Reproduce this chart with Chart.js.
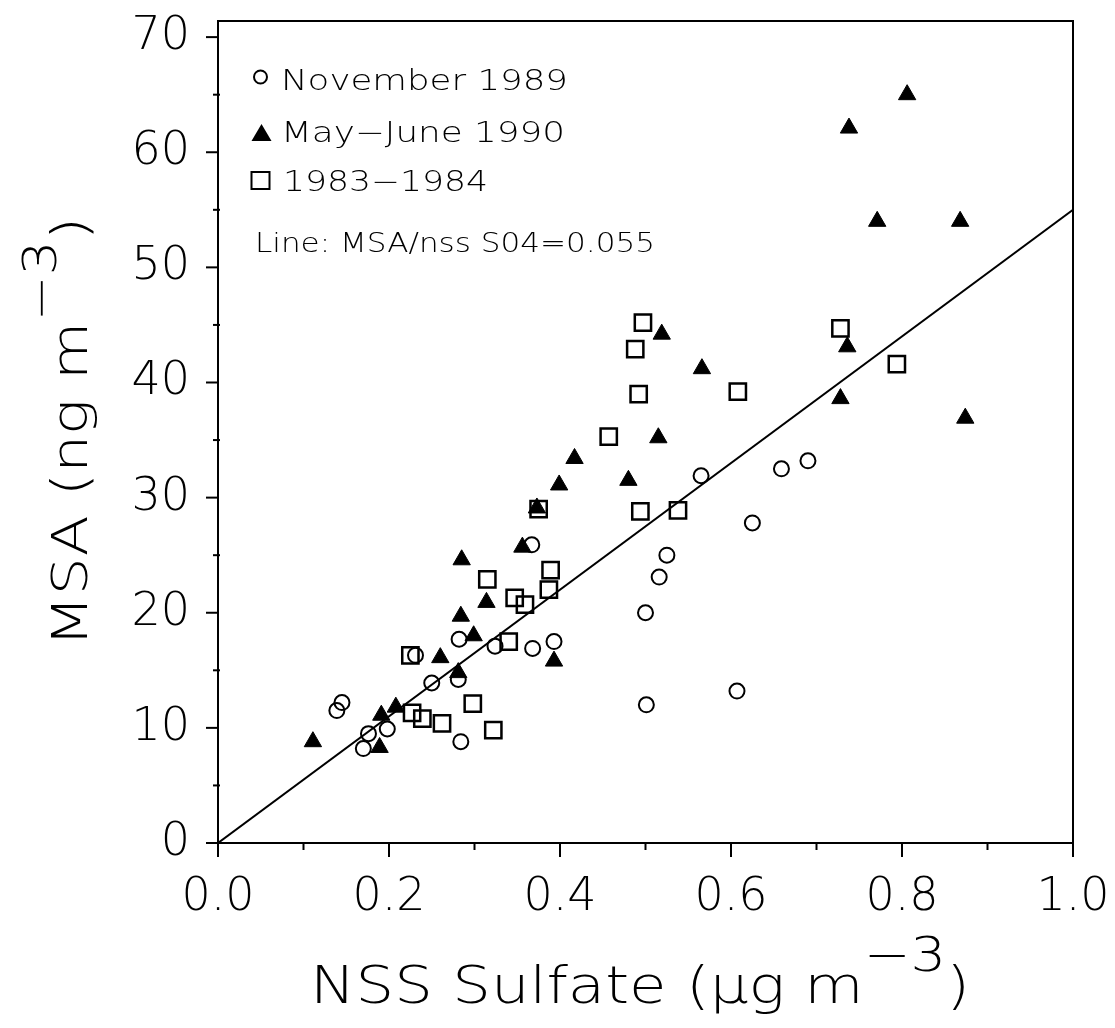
<!DOCTYPE html>
<html>
<head>
<meta charset="utf-8">
<script src="https://cdn.jsdelivr.net/npm/chart.js@4"></script>
<style>
  body { margin: 0; background: #fff; }
  #wrap { width: 1115px; height: 1028px; }
</style>
</head>
<body>
<div id="wrap"><canvas id="msaChart" width="1115" height="1028"></canvas></div>
<script>
// November 1989 (open circles)
const novX = [0.139, 0.145, 0.170, 0.176, 0.198, 0.231, 0.250, 0.282, 0.281, 0.284, 0.324, 0.367,
              0.368, 0.393, 0.501, 0.500, 0.516, 0.525, 0.565, 0.625, 0.607, 0.659, 0.690];
const novY = [11.5, 12.2, 8.2, 9.5, 9.9, 16.3, 13.9, 17.7, 14.2, 8.8, 17.1, 25.9,
              16.9, 17.5, 12.0, 20.0, 23.1, 25.0, 31.9, 27.8, 13.2, 32.5, 33.2];

// May-June 1990 (filled triangles)
const mayX = [0.111, 0.191, 0.208, 0.189, 0.260, 0.281, 0.284, 0.299, 0.285, 0.314, 0.356, 0.373, 0.399,
              0.417, 0.393, 0.480, 0.515, 0.519, 0.566, 0.728, 0.736, 0.738, 0.771, 0.806, 0.868, 0.874];
const mayY = [8.8, 11.1, 11.8, 8.3, 16.1, 14.8, 19.7, 18.0, 24.6, 20.9, 25.7, 29.1, 31.1,
              33.4, 15.8, 31.5, 35.2, 44.2, 41.2, 38.6, 43.1, 62.1, 54.0, 65.0, 54.0, 36.9];

// 1983-1984 (open squares)
const oldX = [0.225, 0.227, 0.239, 0.262, 0.298, 0.322, 0.315, 0.340, 0.347, 0.359, 0.387,
              0.389, 0.375, 0.457, 0.494, 0.538, 0.492, 0.488, 0.497, 0.608, 0.728, 0.794];
const oldY = [16.3, 11.3, 10.8, 10.4, 12.1, 9.8, 22.9, 17.5, 21.3, 20.7, 22.0,
              23.7, 29.0, 35.3, 28.8, 28.9, 39.0, 42.9, 45.2, 39.2, 44.7, 41.6];

// reference line MSA/nss SO4 = 0.055
const lineX = [0, 1.0];
const lineY = [0, 55];

const xTicks = [0, 0.2, 0.4, 0.6, 0.8, 1.0];
const xMinor = [0.1, 0.3, 0.5, 0.7, 0.9];
const yTicks = [0, 10, 20, 30, 40, 50, 60, 70];
const yMinor = [5, 15, 25, 35, 45, 55, 65];

const FONT = '"DejaVu Sans", "Liberation Sans", sans-serif';
const WEIGHT = '200';

function toPoints(xs, ys) {
    return xs.map((x, i) => ({ x: x, y: ys[i] }));
}

// text with optional superscript parts, stretched to a target width
function wideText(c, parts, x, y, size, width) {
    const supSize = size * 0.92;
    let widths = parts.map(p => {
        c.font = `${WEIGHT} ${p[1] ? supSize : size}px ${FONT}`;
        return c.measureText(p[0]).width;
    });
    const total = widths.reduce((a, b) => a + b, 0);
    const sx = width ? width / total : 1;
    c.save();
    c.translate(x, y);
    c.scale(sx, 1);
    let cx = 0;
    parts.forEach((p, i) => {
        c.font = `${WEIGHT} ${p[1] ? supSize : size}px ${FONT}`;
        c.fillText(p[0], cx, p[1] ? -size * 0.62 : 0);
        cx += widths[i];
    });
    c.restore();
}

const framePlugin = {
    id: 'frame',
    afterDraw(chart) {
        const c = chart.ctx;
        const ca = chart.chartArea;
        const xs = chart.scales.x;
        const ys = chart.scales.y;
        c.save();
        c.strokeStyle = '#000';
        c.fillStyle = '#000';
        c.lineWidth = 2;
        c.strokeRect(ca.left, ca.top, ca.right - ca.left, ca.bottom - ca.top);

        const seg = (x1, y1, x2, y2) => { c.beginPath(); c.moveTo(x1, y1); c.lineTo(x2, y2); c.stroke(); };
        yTicks.forEach(v => { const p = ys.getPixelForValue(v); seg(ca.left - 12, p, ca.left, p); });
        yMinor.forEach(v => { const p = ys.getPixelForValue(v); seg(ca.left - 5, p, ca.left + 2, p); });
        xTicks.forEach(v => { const p = xs.getPixelForValue(v); seg(p, ca.bottom, p, ca.bottom + 14); });
        xMinor.forEach(v => { const p = xs.getPixelForValue(v); seg(p, ca.bottom, p, ca.bottom + 7); });

        // legend inside the plot
        c.textBaseline = 'alphabetic';
        c.textAlign = 'left';
        c.beginPath();
        c.arc(260.5, 77, 6.5, 0, Math.PI * 2);
        c.stroke();
        wideText(c, [['November 1989', false]], 281, 90, 28, 287);

        c.beginPath();
        c.moveTo(261.5, 124);
        c.lineTo(271.5, 141);
        c.lineTo(251.5, 141);
        c.closePath();
        c.fill();
        wideText(c, [['May\u2212June 1990', false]], 281, 141.5, 28, 284);

        c.lineWidth = 2;
        c.strokeRect(251.5, 172, 18, 17);
        wideText(c, [['1983\u22121984', false]], 283, 190.5, 28, 205);

        wideText(c, [['Line: MSA/nss S04=0.055', false]], 255, 251.5, 27, 400);

        // axis titles
        const xParts = [['NSS Sulfate (\u00b5g m', false], ['\u22123', true], [')', false]];
        wideText(c, xParts, 310, 1003, 52, 660);

        c.save();
        c.translate(87, 432);
        c.rotate(-Math.PI / 2);
        const yParts = [['MSA (ng m', false], ['\u22123', true], [')', false]];
        wideText(c, yParts, -215, 0, 50, 430);
        c.restore();

        c.restore();
    }
};

const tickFont = { family: FONT, size: 46, weight: WEIGHT };

new Chart(document.getElementById('msaChart').getContext('2d'), {
    type: 'scatter',
    data: {
        datasets: [
            {
                label: 'November 1989',
                data: toPoints(novX, novY),
                pointStyle: 'circle',
                pointRadius: 7.5,
                borderWidth: 2,
                borderColor: '#000',
                backgroundColor: 'rgba(0,0,0,0)'
            },
            {
                label: 'May\u2212June 1990',
                data: toPoints(mayX, mayY),
                pointStyle: 'triangle',
                pointRadius: 10,
                borderWidth: 1,
                borderColor: '#000',
                backgroundColor: '#000'
            },
            {
                label: '1983\u22121984',
                data: toPoints(oldX, oldY),
                pointStyle: 'rect',
                pointRadius: 11.5,
                borderWidth: 2.5,
                borderColor: '#000',
                backgroundColor: 'rgba(0,0,0,0)'
            },
            {
                type: 'line',
                label: 'MSA/nss SO4=0.055',
                data: toPoints(lineX, lineY),
                borderColor: '#000',
                borderWidth: 2,
                pointRadius: 0,
                fill: false
            }
        ]
    },
    options: {
        responsive: false,
        animation: false,
        devicePixelRatio: 1,
        layout: { padding: { top: 21, right: 42, left: 0, bottom: 0 } },
        plugins: {
            legend: { display: false },
            tooltip: { enabled: false }
        },
        scales: {
            x: {
                type: 'linear',
                min: 0,
                max: 1,
                grid: { display: false, drawTicks: false },
                border: { display: false },
                afterBuildTicks: s => { s.ticks = xTicks.map(v => ({ value: v })); },
                afterFit: s => {
                    s.height = 185;
                    s.paddingLeft = 0;
                    s.paddingRight = 0;
                },
                ticks: {
                    padding: 27,
                    color: '#000',
                    font: tickFont,
                    maxRotation: 0,
                    autoSkip: false,
                    callback: v => Number(v).toFixed(1)
                }
            },
            y: {
                type: 'linear',
                min: 0,
                max: 71.4,
                grid: { display: false, drawTicks: false },
                border: { display: false },
                afterBuildTicks: s => { s.ticks = yTicks.map(v => ({ value: v })); },
                afterFit: s => {
                    s.width = 218;
                    s.paddingTop = 0;
                    s.paddingBottom = 0;
                },
                ticks: {
                    padding: 28,
                    color: '#000',
                    font: tickFont,
                    autoSkip: false
                }
            }
        }
    },
    plugins: [framePlugin]
});
</script>
</body>
</html>
